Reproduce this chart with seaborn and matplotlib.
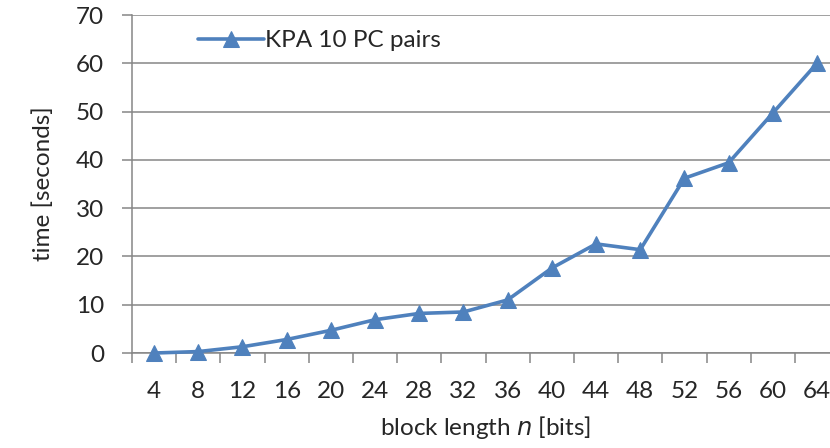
import numpy as np
import pandas as pd
import seaborn as sns
import matplotlib.pyplot as plt
from matplotlib.ticker import FixedLocator

# data
block_length = [4, 8, 12, 16, 20, 24, 28, 32, 36, 40, 44, 48, 52, 56, 60, 64]
kpa_time = [0.0, 0.3, 1.3, 2.8, 4.7, 6.9, 8.2, 8.5, 11.0, 17.6, 22.6, 21.4, 36.2, 39.4, 49.7, 60.0]
series_name = "KPA 10 PC pairs"

df = pd.DataFrame({"n": block_length, "time": kpa_time, "series": series_name})

sns.set_style("white")
plt.rcParams["font.family"] = ["Lato", "DejaVu Sans"]

blue = "#4F81BD"
grey = "#868686"
fs = 17.5

fig = plt.figure(figsize=(8.3, 4.48), dpi=100)
ax = fig.add_axes([0.159, 0.212, 0.852, 0.7545])

sns.lineplot(data=df, x="n", y="time", hue="series", palette=[blue],
             marker="^", markersize=12, markeredgecolor=blue,
             linewidth=2.6, ax=ax)
# let the first marker sit over the x axis like the original
for line in ax.lines:
    line.set_clip_on(False)
    line.set_zorder(5)

ax.set_xlim(2, 66)
ax.set_ylim(0, 70)
ax.set_yticks(range(0, 71, 10))
ax.set_xticks(block_length)
ax.xaxis.set_minor_locator(FixedLocator([b + 2 for b in block_length] + [2]))
ax.grid(axis="y", color=grey, linewidth=1.1)
ax.set_axisbelow(True)

for s in ["top", "right"]:
    ax.spines[s].set_visible(False)
for s in ["left", "bottom"]:
    ax.spines[s].set_color(grey)
    ax.spines[s].set_linewidth(1.1)

ax.tick_params(axis="x", which="major", length=0, pad=20, labelsize=fs)
ax.tick_params(axis="x", which="minor", length=7, width=1.1, color=grey, direction="out", bottom=True)
ax.tick_params(axis="y", length=7, width=1.1, color=grey, direction="out", left=True, pad=13, labelsize=fs)

ax.set_xlabel("block length $\\it{n}$ [bits]", fontsize=fs, labelpad=9)
ax.set_ylabel("time [seconds]", fontsize=fs, labelpad=16)

ax.legend(loc="upper left", bbox_to_anchor=(0.07, 1.005), frameon=False,
          fontsize=fs, handlelength=2.7, handletextpad=0.05, borderaxespad=0.3)

fig.savefig("out.png", dpi=100)
